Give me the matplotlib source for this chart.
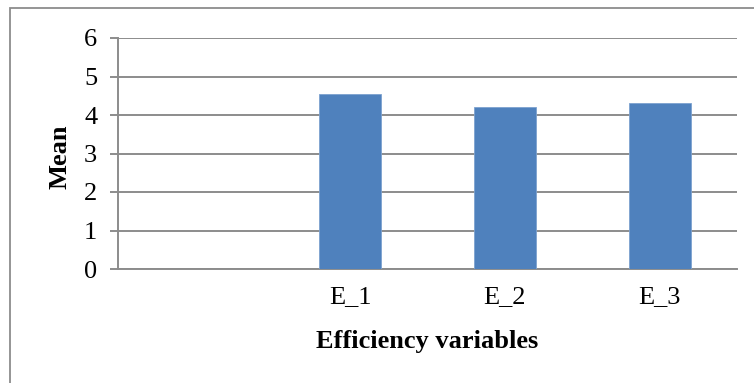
import numpy as np
import matplotlib.pyplot as plt
from matplotlib.patches import Rectangle

categories = ["", "E_1", "E_2", "E_3"]
means = [np.nan, 4.55, 4.2, 4.3]
y_ticks = [0, 1, 2, 3, 4, 5, 6]

plt.rcParams['font.family'] = ['Liberation Serif', 'DejaVu Serif']

fig = plt.figure(figsize=(7.54, 3.83), dpi=100)
ax = fig.add_axes([118/754, 1 - 269/383, (737 - 118)/754, (269 - 38)/383])

# marco exterior del grafico
fig.patches.append(Rectangle((10/754, -0.05), 1.1, 1 - 8/383 + 0.05,
                             transform=fig.transFigure, fill=False,
                             edgecolor="#8c8c8c", linewidth=1.3, zorder=0))

x = np.arange(len(categories))
ax.bar(x, means, width=0.4, color="#4F81BD", edgecolor="#7da2cf", linewidth=0.6, zorder=3)

ax.set_xlim(-0.5, len(categories) - 0.5)
ax.set_ylim(0, 6)
ax.set_yticks(y_ticks)
ax.set_xticks(x)
ax.set_xticklabels(categories)

ax.yaxis.grid(True, color="#8c8c8c", linewidth=1.4, zorder=0)
for s in ["top", "right"]:
    ax.spines[s].set_visible(False)
ax.spines["left"].set_color("#8c8c8c")
ax.spines["left"].set_linewidth(1.4)
ax.spines["bottom"].set_color("#8c8c8c")
ax.spines["bottom"].set_linewidth(1.4)

ax.tick_params(axis="y", length=6, width=1.4, color="#8c8c8c", pad=9, labelsize=19)
ax.tick_params(axis="x", length=0, pad=12, labelsize=19)

ax.set_xlabel("Efficiency variables", fontsize=19, fontweight="bold")
ax.set_ylabel("Mean", fontsize=19, fontweight="bold")
ax.xaxis.set_label_coords(0.5, -0.262)
ax.yaxis.set_label_coords(-0.075, 0.485)

fig.savefig("out.png", dpi=100)
